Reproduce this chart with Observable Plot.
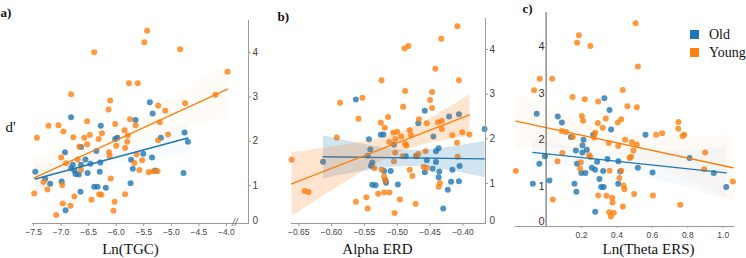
<!DOCTYPE html>
<html>
<head>
<meta charset="utf-8">
<script src="https://cdn.jsdelivr.net/npm/d3@7"></script>
<script src="https://cdn.jsdelivr.net/npm/@observablehq/plot@0.6"></script>
<style>
  html, body { margin: 0; padding: 0; background: #fff; }
  #wrap { position: relative; width: 746px; height: 258px; overflow: hidden; background: #fff; }
  #wrap svg { position: absolute; left: 0; top: 0; }
  #wrap svg text.serif { font-family: "Liberation Serif", "Times New Roman", serif; }
  .leg { position: absolute; font-family: "Liberation Serif", serif; font-size: 14px; color: #111; line-height: 14px; white-space: nowrap; }
  .leg .sw { display: inline-block; width: 9px; height: 9px; margin-right: 10px; vertical-align: 0px; }
</style>
</head>
<body>
<div id="wrap"></div>
<script>
// ---------------- data ----------------
const groups = ["Old", "Young"];
const groupColors = ["#1f77b4", "#ff7f0e"];
const yTicks = [0, 1, 2, 3, 4];

// Panel a: Ln(TGC)
const aTicks = [-7.5, -7.0, -6.5, -6.0, -5.5, -5.0, -4.5, -4.0];
const aYoungX = [-5.44,-5.49,-4.84,-6.40,-3.98,-5.77,-5.61,-4.20,-6.82,-6.11,-4.75,-5.24,-6.14,-5.11,-5.75,-6.53,-5.21,-6.02,-7.23,-7.05,-5.65,-6.96,-5.85,-6.26,-7.44,-6.78,-6.48,-6.58,-5.79,-5.06,-6.32,-5.24,-5.80,-6.53,-6.67,-6.00,-5.84,-6.13,-7.00,-6.12,-5.63,-6.70,-5.67,-6.91,-5.53,-6.64,-5.58,-5.41,-5.33,-5.25,-6.10,-7.32,-7.25,-6.98,-7.49,-6.76,-6.31,-6.27,-5.84,-6.45,-6.97,-6.83,-6.03,-6.05,-7.09];
const aYoungY = [4.50,4.24,4.08,4.01,3.57,3.31,3.31,3.05,3.06,2.92,2.86,2.81,2.72,2.69,2.50,2.45,2.43,2.39,2.35,2.36,2.36,2.22,2.25,2.18,2.08,2.09,2.14,2.08,2.13,2.15,2.05,2.02,1.99,1.93,1.88,1.90,1.85,1.75,1.63,1.66,1.70,1.59,1.51,1.50,1.57,1.35,1.35,1.30,1.32,1.32,1.16,1.08,0.91,1.01,0.82,0.75,0.80,0.79,0.80,0.68,0.59,0.54,0.63,0.43,0.33];
const aOldX = [-5.39,-5.34,-6.82,-5.65,-6.28,-4.76,-6.02,-5.98,-5.19,-4.70,-6.64,-6.93,-6.36,-5.51,-5.35,-6.56,-5.73,-6.47,-6.29,-6.79,-6.64,-6.82,-6.76,-6.74,-6.68,-6.52,-6.30,-5.70,-5.29,-7.47,-7.29,-7.20,-6.99,-4.78,-6.40,-6.34,-6.19,-5.74,-6.65,-6.92];
const aOldY = [2.88,2.63,2.54,2.48,2.35,2.20,2.05,2.08,2.08,1.99,1.87,1.75,1.78,1.72,1.63,1.59,1.58,1.49,1.52,1.47,1.47,1.39,1.34,1.26,1.25,1.28,1.31,1.38,1.34,1.31,1.15,1.04,1.09,1.28,0.97,0.97,0.95,1.05,0.86,0.44];

// Panel b: Alpha ERD
const bTicks = [-0.65, -0.60, -0.55, -0.50, -0.45, -0.40];
const bYoungX = [-0.4085,-0.433,-0.483,-0.489,-0.442,-0.524,-0.406,-0.488,-0.447,-0.553,-0.450,-0.587,-0.491,-0.447,-0.559,-0.514,-0.525,-0.467,-0.519,-0.455,-0.438,-0.432,-0.432,-0.481,-0.500,-0.506,-0.401,-0.390,-0.416,-0.479,-0.592,-0.494,-0.503,-0.512,-0.488,-0.486,-0.409,-0.503,-0.471,-0.457,-0.468,-0.492,-0.408,-0.661,-0.505,-0.535,-0.524,-0.481,-0.460,-0.455,-0.477,-0.518,-0.520,-0.435,-0.437,-0.641,-0.635,-0.529,-0.520,-0.512,-0.547,-0.563,-0.496,-0.472,-0.545,-0.504];
const bYoungY = [4.52,4.24,4.08,4.02,3.57,3.31,3.31,3.07,3.05,2.92,2.87,2.81,2.72,2.69,2.45,2.49,2.36,2.44,2.25,2.35,2.37,2.40,2.22,2.19,2.16,2.14,2.15,2.10,2.08,2.08,2.03,2.05,1.99,1.93,1.89,1.85,1.91,1.69,1.62,1.72,1.66,1.61,1.60,1.53,1.50,1.34,1.31,1.31,1.37,1.35,1.17,1.07,1.16,1.01,0.93,0.83,0.81,0.77,0.80,0.80,0.69,0.59,0.64,0.55,0.44,0.34];
const bOldX = [-0.563,-0.458,-0.406,-0.421,-0.468,-0.367,-0.525,-0.521,-0.445,-0.543,-0.505,-0.541,-0.437,-0.441,-0.545,-0.487,-0.471,-0.613,-0.538,-0.540,-0.441,-0.455,-0.405,-0.446,-0.416,-0.458,-0.436,-0.437,-0.520,-0.510,-0.518,-0.517,-0.538,-0.533,-0.499,-0.418,-0.406,-0.423,-0.430];
const bOldY = [2.88,2.63,2.55,2.50,2.35,2.22,2.09,2.10,2.05,1.99,1.87,1.76,1.79,1.72,1.62,1.61,1.61,1.49,1.47,1.40,1.48,1.52,1.39,1.33,1.31,1.25,1.27,1.14,1.28,1.28,1.08,1.02,0.97,0.96,0.98,1.04,1.05,0.86,0.44];

// Panel c: Ln(Theta ERS)
const cTicks = [0.2, 0.4, 0.6, 0.8, 1.0];
const cYoungX = [0.505,0.185,0.175,0.250,0.518,-0.036,0.034,-0.068,0.433,0.149,0.218,0.294,0.459,0.512,0.424,0.747,0.746,0.655,0.621,0.780,0.770,0.446,0.484,0.512,0.493,0.898,0.480,0.471,0.893,0.424,1.055,0.437,0.442,0.497,0.603,0.433,0.757,0.202,0.209,0.292,0.337,0.320,0.405,0.089,0.113,0.151,0.277,0.271,0.354,0.407,0.092,0.243,0.250,0.064,0.196,0.192,0.358,0.414,-0.171,0.038,0.294,0.341,0.373,0.375,0.356,0.382,0.366];
const cYoungY = [4.50,4.24,4.08,4.01,3.57,3.31,3.31,3.06,3.07,2.92,2.87,2.82,2.72,2.70,2.44,2.38,2.24,2.14,2.11,2.11,2.08,2.00,1.95,1.90,1.77,1.73,1.64,1.61,1.37,1.34,1.11,1.02,0.94,0.84,0.81,0.57,0.61,2.51,2.41,2.36,2.46,2.26,2.37,2.19,2.17,2.06,2.15,2.05,1.93,1.87,1.72,1.67,1.63,1.54,1.52,1.38,1.34,1.18,1.33,0.72,0.81,0.80,0.76,0.66,0.45,0.44,0.36];
const cOldX = [-0.053,0.066,0.089,0.329,0.358,0.367,0.266,0.140,0.211,0.205,0.205,0.230,0.168,-0.007,-0.038,0.175,0.288,0.346,0.408,0.258,0.277,0.322,0.418,0.199,0.222,0.019,-0.075,0.160,0.301,0.407,0.311,0.325,0.171,0.277,0.561,0.810,0.518,0.601,0.947,1.017];
const cOldY = [2.56,2.50,2.37,2.89,2.64,2.22,2.11,2.06,2.00,1.88,1.73,1.79,1.77,1.65,1.49,1.49,1.53,1.59,1.54,1.40,1.36,1.33,1.32,1.29,1.29,1.13,1.06,1.06,1.16,1.06,0.99,0.99,0.89,0.46,2.11,1.61,1.40,1.30,1.29,0.99];

// ---------------- helpers ----------------
function rows(xs, ys, g) { return xs.map((x, i) => ({x, y: ys[i], group: g})); }
const dataA = [...rows(aOldX, aOldY, groups[0]), ...rows(aYoungX, aYoungY, groups[1])];
const dataB = [...rows(bOldX, bOldY, groups[0]), ...rows(bYoungX, bYoungY, groups[1])];
const dataC = [...rows(cOldX, cOldY, groups[0]), ...rows(cYoungX, cYoungY, groups[1])];

const W = 746, H = 258;
const serif = "'Liberation Serif', 'Times New Roman', serif";
const sans = "'Liberation Sans', Arial, sans-serif";
const colorScale = {domain: groups, range: groupColors};
const axisGrey = "#9a9a9a";
const tickText = "#444";

function scatterMarks(data, bandOpacity) {
  return [
    Plot.dot(data, {x: "x", y: "y", fill: "group", r: 3, fillOpacity: 0.8}),
    Plot.linearRegressionY(data, {x: "x", y: "y", stroke: "group", fill: "group", fillOpacity: bandOpacity, strokeWidth: 1.4, ci: 0.95})
  ];
}
function serifText(label, opts) {
  return Plot.text([label], {fontFamily: serif, fill: "#111", lineAnchor: "middle", ...opts});
}

const wrap = document.getElementById("wrap");

// ---------------- panel a ----------------
const pa = Plot.plot({
  width: W, height: H,
  marginLeft: 32, marginRight: W - 248, marginTop: 20, marginBottom: H - 223,
  style: {background: "transparent", overflow: "visible"},
  color: colorScale,
  x: {domain: [-7.52, -3.60]},
  y: {domain: [0, 4], range: [229.2, 52.3]},
  marks: [
    ...scatterMarks(dataA, 0.03),
    Plot.frame({anchor: "bottom", stroke: axisGrey}),
    Plot.frame({anchor: "right", stroke: axisGrey}),
    Plot.axisX({ticks: aTicks, tickFormat: d3.format(".1f"), tickSize: 3, tickPadding: 2, fontSize: 8.5, fontFamily: sans, stroke: axisGrey, fill: tickText, label: null}),
    Plot.axisY({anchor: "right", ticks: yTicks.filter(t => t > 0), tickFormat: d3.format("d"), tickSize: 2, tickPadding: 2, fontSize: 10, fontFamily: sans, stroke: axisGrey, fill: tickText, label: null}),
    Plot.text([String(yTicks[0])], {frameAnchor: "bottom-right", dx: 4, dy: -3, textAnchor: "start", lineAnchor: "middle", fontSize: 10, fontFamily: sans, fill: tickText}),
    Plot.text(["//"], {frameAnchor: "bottom-right", dx: -11, dy: -1, lineAnchor: "middle", fontSize: 10, fontFamily: sans, fill: "#666", fontStyle: "italic"}),
    serifText("Ln(TGC)", {frameAnchor: "bottom", dx: -10, dy: 26, fontSize: 15}),
    serifText("d'", {frameAnchor: "left", dx: -22, dy: 5, textAnchor: "middle", fontSize: 15}),
    serifText("a)", {frameAnchor: "top-left", dx: -32, dy: -8, textAnchor: "start", fontSize: 13, fontWeight: "bold"})
  ]
});
wrap.appendChild(pa);

// ---------------- panel b ----------------
const pb = Plot.plot({
  width: W, height: H,
  marginLeft: 291, marginRight: W - 485, marginTop: 18, marginBottom: H - 223,
  style: {background: "transparent", overflow: "visible"},
  color: colorScale,
  x: {domain: [-0.661, -0.3656]},
  y: {domain: [0, 4], range: [227.7, 49]},
  marks: [
    ...scatterMarks(dataB, 0.2),
    Plot.frame({anchor: "bottom", stroke: axisGrey}),
    Plot.frame({anchor: "right", stroke: axisGrey}),
    Plot.axisX({ticks: bTicks, tickFormat: d3.format(".2f"), tickSize: 3, tickPadding: 2, fontSize: 8.5, fontFamily: sans, stroke: axisGrey, fill: tickText, label: null}),
    Plot.axisY({anchor: "right", ticks: yTicks.filter(t => t > 0), tickFormat: d3.format("d"), tickSize: 2, tickPadding: 2, fontSize: 10, fontFamily: sans, stroke: axisGrey, fill: tickText, label: null}),
    Plot.text([String(yTicks[0])], {frameAnchor: "bottom-right", dx: 4, dy: -3, textAnchor: "start", lineAnchor: "middle", fontSize: 10, fontFamily: sans, fill: tickText}),
    serifText("Alpha ERD", {frameAnchor: "bottom", dx: -11, dy: 26, fontSize: 15}),
    serifText("b)", {frameAnchor: "top-left", dx: -14, dy: -2, textAnchor: "start", fontSize: 13, fontWeight: "bold"})
  ]
});
wrap.appendChild(pb);

// ---------------- panel c ----------------
const pc = Plot.plot({
  width: W, height: H,
  marginLeft: 515, marginRight: W - 733, marginTop: 12, marginBottom: H - 226,
  style: {background: "transparent", overflow: "visible"},
  color: colorScale,
  x: {domain: [-0.1728, 1.058]},
  y: {domain: [0, 4], range: [232.7, 46]},
  marks: [
    ...scatterMarks(dataC, 0.04),
    Plot.frame({anchor: "bottom", stroke: axisGrey}),
    Plot.ruleX([0], {stroke: "#555"}),
    Plot.axisX({ticks: cTicks, tickFormat: d3.format(".1f"), tickSize: 2, tickPadding: 3, fontSize: 8.5, fontFamily: sans, stroke: axisGrey, fill: tickText, label: null}),
    Plot.axisY({anchor: "left", ticks: yTicks.filter(t => t > 0), tickFormat: d3.format("d"), tickSize: 0, tickPadding: -29, fontSize: 11, fontFamily: sans, fill: "#333", label: null}),
    Plot.text([String(yTicks[0])], {frameAnchor: "bottom-left", dx: 29, dy: -5, textAnchor: "end", lineAnchor: "middle", fontSize: 11, fontFamily: sans, fill: "#333"}),
    serifText("Ln(Theta ERS)", {frameAnchor: "bottom", dx: 24, dy: 23, fontSize: 15}),
    serifText("c)", {frameAnchor: "top-left", dx: 7, dy: -4, textAnchor: "start", fontSize: 13, fontWeight: "bold"})
  ]
});
wrap.appendChild(pc);

// ---------------- legend ----------------
groups.forEach((g, i) => {
  const d = document.createElement("div");
  d.className = "leg";
  d.style.left = "690px";
  d.style.top = (28 + i * 18) + "px";
  d.innerHTML = `<span class="sw" style="background:${groupColors[i]}"></span>${g}`;
  wrap.appendChild(d);
});
</script>
</body>
</html>
